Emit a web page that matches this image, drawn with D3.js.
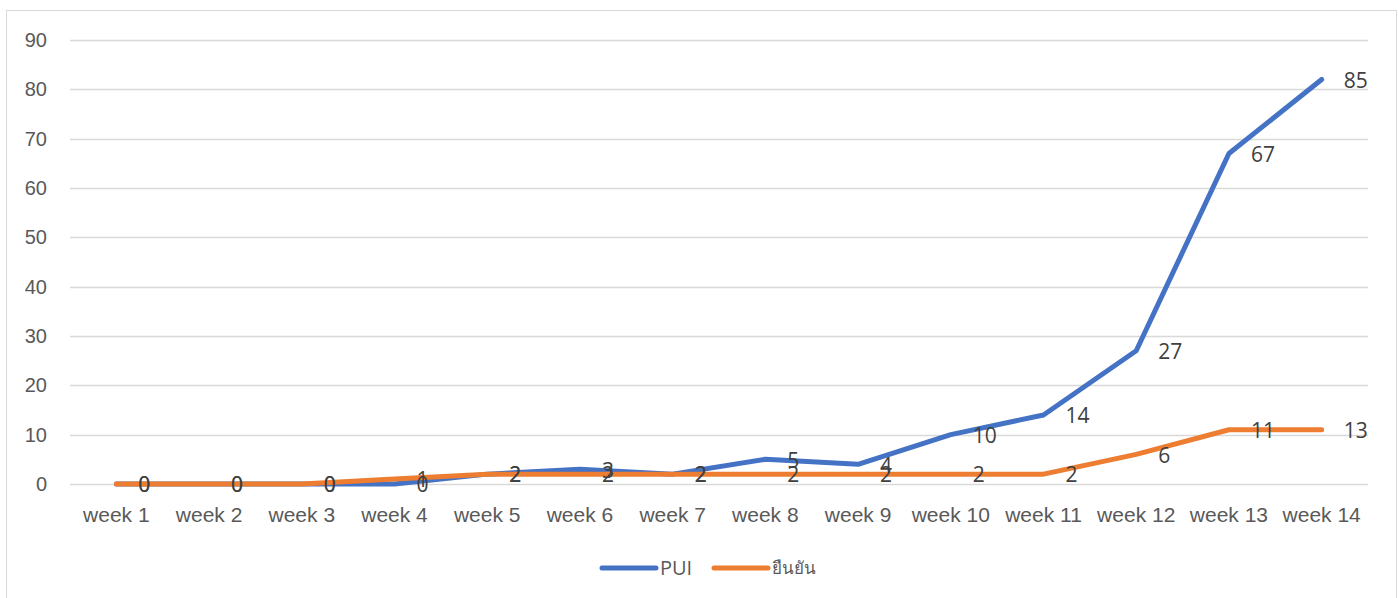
<!DOCTYPE html>
<html>
<head>
<meta charset="utf-8">
<script src="https://cdn.jsdelivr.net/npm/d3@7/dist/d3.min.js"></script>
<style>
  html, body { margin: 0; padding: 0; background: #fff; }
  svg { display: block; font-family: "Open Sans", "Noto Sans", sans-serif; }
</style>
</head>
<body>
<div id="chart"></div>
<script>
// ข้อมูลรายสัปดาห์
const weeks = ["week 1", "week 2", "week 3", "week 4", "week 5", "week 6", "week 7",
               "week 8", "week 9", "week 10", "week 11", "week 12", "week 13", "week 14"];
const puiValues = [0, 0, 0, 0, 2, 3, 2, 5, 4, 10, 14, 27, 67, 82];
const puiLabels = [0, 0, 0, 0, 2, 3, 2, 5, 4, 10, 14, 27, 67, 85];
const confirmedValues = [0, 0, 0, 1, 2, 2, 2, 2, 2, 2, 2, 6, 11, 11];
const confirmedLabels = [0, 0, 0, 1, 2, 2, 2, 2, 2, 2, 2, 6, 11, 13];
const yTicks = [0, 10, 20, 30, 40, 50, 60, 70, 80, 90];

const series = [
    {name: "PUI", values: puiValues, labels: puiLabels, color: "#4472C4"},
    {name: "ยืนยัน", values: confirmedValues, labels: confirmedLabels, color: "#ED7D31"}
];

const width = 1398, height = 598;
const plotLeft = 70, plotRight = 1368, plotTop = 40, plotBottom = 484;

const svg = d3.select("#chart").append("svg")
    .attr("width", width)
    .attr("height", height);

// กรอบพื้นที่แผนภูมิ
svg.append("rect")
    .attr("x", 6.5).attr("y", 10.5)
    .attr("width", 1390).attr("height", 600)
    .attr("fill", "none")
    .attr("stroke", "#d9d9d9")
    .attr("stroke-width", 1);

const x = d3.scaleBand().domain(weeks).range([plotLeft, plotRight]);
const y = d3.scaleLinear().domain([0, 90]).range([plotBottom, plotTop]);
const cx = d => x(d) + x.bandwidth() / 2;

// เส้นกริด
svg.append("g")
    .selectAll("line")
    .data(yTicks)
    .join("line")
    .attr("x1", plotLeft).attr("x2", plotRight)
    .attr("y1", d => Math.round(y(d)) + 0.5)
    .attr("y2", d => Math.round(y(d)) + 0.5)
    .attr("stroke", "#d9d9d9")
    .attr("stroke-width", 1.3);

// แกน Y
const yAxis = svg.append("g")
    .attr("transform", `translate(${plotLeft},0)`)
    .call(d3.axisLeft(y).tickValues(yTicks).tickSize(0).tickPadding(23));
yAxis.select(".domain").remove();
yAxis.selectAll("text")
    .attr("fill", "#595959")
    .attr("font-size", 20)
    .attr("font-family", null);

// แกน X
const xAxis = svg.append("g")
    .attr("transform", `translate(0,${plotBottom})`)
    .call(d3.axisBottom(x).tickSize(0).tickPadding(23));
xAxis.select(".domain").remove();
xAxis.selectAll("text")
    .attr("fill", "#595959")
    .attr("font-size", 21)
    .attr("font-family", null);

// เส้นข้อมูล
const line = d3.line()
    .x((d, i) => cx(weeks[i]))
    .y(d => y(d));

svg.append("g")
    .selectAll("path")
    .data(series)
    .join("path")
    .attr("d", s => line(s.values))
    .attr("fill", "none")
    .attr("stroke", s => s.color)
    .attr("stroke-width", 5)
    .attr("stroke-linecap", "round")
    .attr("stroke-linejoin", "round");

// ป้ายข้อมูล
series.forEach(s => {
    svg.append("g")
        .selectAll("text")
        .data(s.labels)
        .join("text")
        .attr("x", (d, i) => cx(weeks[i]) + 22)
        .attr("y", (d, i) => y(s.values[i]) + 1)
        .attr("dy", "0.35em")
        .attr("fill", "#404040")
        .attr("font-size", 21)
        .text(d => d);
});

// คำอธิบาย
const legend = svg.append("g").attr("transform", "translate(600,568)");
const legendItems = legend.selectAll("g")
    .data(series)
    .join("g")
    .attr("transform", (d, i) => `translate(${i * 112},0)`);
legendItems.append("line")
    .attr("x1", 2).attr("x2", 56)
    .attr("stroke", d => d.color)
    .attr("stroke-width", 5)
    .attr("stroke-linecap", "round");
legendItems.append("text")
    .attr("x", 60)
    .attr("dy", "0.35em")
    .attr("fill", "#595959")
    .attr("font-size", d => d.name === "PUI" ? 20 : 17)
    .text(d => d.name);
</script>
</body>
</html>
